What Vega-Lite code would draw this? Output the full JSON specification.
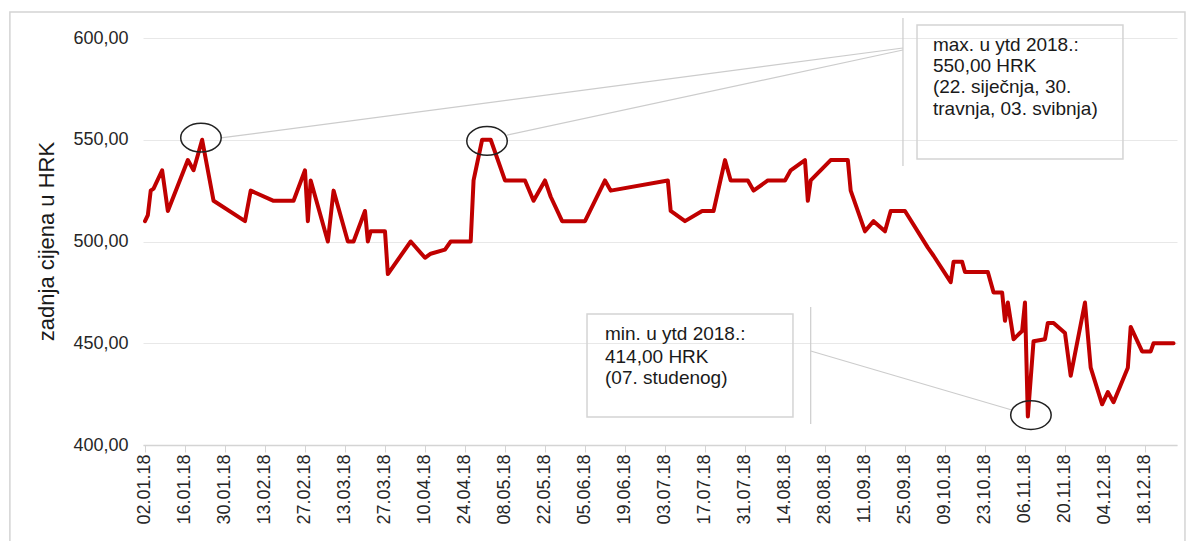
{
  "$schema": "https://vega.github.io/schema/vega-lite/v6.json",
  "width": 1034,
  "height": 407,
  "autosize": {"type": "none"},
  "padding": {"left": 143, "top": 38, "right": 15, "bottom": 96},
  "background": "white",
  "config": {
    "font": "Liberation Sans, Arial, sans-serif",
    "view": {"stroke": null}
  },
  "datasets": {
    "prices": [
      {"date": "2018-01-02", "value": 510}, {"date": "2018-01-03", "value": 513}, {"date": "2018-01-04", "value": 525},
      {"date": "2018-01-05", "value": 526}, {"date": "2018-01-08", "value": 535}, {"date": "2018-01-10", "value": 515},
      {"date": "2018-01-17", "value": 540}, {"date": "2018-01-19", "value": 535}, {"date": "2018-01-22", "value": 550},
      {"date": "2018-01-26", "value": 520}, {"date": "2018-02-06", "value": 510}, {"date": "2018-02-08", "value": 525},
      {"date": "2018-02-16", "value": 520}, {"date": "2018-02-23", "value": 520}, {"date": "2018-02-27", "value": 535},
      {"date": "2018-02-28", "value": 510}, {"date": "2018-03-01", "value": 530}, {"date": "2018-03-07", "value": 500},
      {"date": "2018-03-09", "value": 525}, {"date": "2018-03-14", "value": 500}, {"date": "2018-03-16", "value": 500},
      {"date": "2018-03-20", "value": 515}, {"date": "2018-03-21", "value": 500}, {"date": "2018-03-22", "value": 505},
      {"date": "2018-03-27", "value": 505}, {"date": "2018-03-28", "value": 484}, {"date": "2018-04-05", "value": 500},
      {"date": "2018-04-10", "value": 492}, {"date": "2018-04-12", "value": 494}, {"date": "2018-04-17", "value": 496},
      {"date": "2018-04-19", "value": 500}, {"date": "2018-04-25", "value": 500}, {"date": "2018-04-26", "value": 500},
      {"date": "2018-04-27", "value": 530}, {"date": "2018-04-30", "value": 550}, {"date": "2018-05-02", "value": 550},
      {"date": "2018-05-03", "value": 550}, {"date": "2018-05-08", "value": 530}, {"date": "2018-05-15", "value": 530},
      {"date": "2018-05-18", "value": 520}, {"date": "2018-05-22", "value": 530}, {"date": "2018-05-24", "value": 522},
      {"date": "2018-05-28", "value": 510}, {"date": "2018-06-05", "value": 510}, {"date": "2018-06-12", "value": 530},
      {"date": "2018-06-14", "value": 525}, {"date": "2018-07-04", "value": 530}, {"date": "2018-07-05", "value": 515},
      {"date": "2018-07-10", "value": 510}, {"date": "2018-07-16", "value": 515}, {"date": "2018-07-20", "value": 515},
      {"date": "2018-07-24", "value": 540}, {"date": "2018-07-26", "value": 530}, {"date": "2018-08-01", "value": 530},
      {"date": "2018-08-03", "value": 525}, {"date": "2018-08-08", "value": 530}, {"date": "2018-08-14", "value": 530},
      {"date": "2018-08-16", "value": 535}, {"date": "2018-08-21", "value": 540}, {"date": "2018-08-22", "value": 520},
      {"date": "2018-08-23", "value": 530}, {"date": "2018-08-30", "value": 540}, {"date": "2018-09-05", "value": 540},
      {"date": "2018-09-06", "value": 525}, {"date": "2018-09-11", "value": 505}, {"date": "2018-09-14", "value": 510},
      {"date": "2018-09-18", "value": 505}, {"date": "2018-09-20", "value": 515}, {"date": "2018-09-25", "value": 515},
      {"date": "2018-10-03", "value": 497}, {"date": "2018-10-05", "value": 493}, {"date": "2018-10-11", "value": 480},
      {"date": "2018-10-12", "value": 490}, {"date": "2018-10-15", "value": 490}, {"date": "2018-10-16", "value": 485},
      {"date": "2018-10-24", "value": 485}, {"date": "2018-10-26", "value": 475}, {"date": "2018-10-29", "value": 475},
      {"date": "2018-10-30", "value": 461}, {"date": "2018-10-31", "value": 470}, {"date": "2018-11-02", "value": 452},
      {"date": "2018-11-05", "value": 456}, {"date": "2018-11-06", "value": 470}, {"date": "2018-11-07", "value": 414},
      {"date": "2018-11-09", "value": 451}, {"date": "2018-11-13", "value": 452}, {"date": "2018-11-14", "value": 460},
      {"date": "2018-11-16", "value": 460}, {"date": "2018-11-20", "value": 455}, {"date": "2018-11-22", "value": 434},
      {"date": "2018-11-27", "value": 470}, {"date": "2018-11-29", "value": 438}, {"date": "2018-12-03", "value": 420},
      {"date": "2018-12-05", "value": 426}, {"date": "2018-12-07", "value": 421}, {"date": "2018-12-12", "value": 438},
      {"date": "2018-12-13", "value": 458}, {"date": "2018-12-17", "value": 446}, {"date": "2018-12-20", "value": 446},
      {"date": "2018-12-21", "value": 450}, {"date": "2018-12-28", "value": 450}
    ],
    "boxes": [
      {"date": "2017-11-15T17:00Z", "date2": "2019-01-01T00:00Z", "value": 612.8, "value2": 340},
      {"date": "2018-09-29T05:00Z", "date2": "2018-12-10T07:00Z", "value": 606.4, "value2": 540.5},
      {"date": "2018-06-05T17:00Z", "date2": "2018-08-16T19:00Z", "value": 464.4, "value2": 413.8}
    ],
    "callouts": [
      {"date": "2018-01-28T14:00Z", "value": 550.9, "date2": "2018-09-24T07:00Z", "value2": 595.1},
      {"date": "2018-05-08T17:00Z", "value": 552.3, "date2": "2018-09-24T07:00Z", "value2": 594.1},
      {"date": "2018-08-23T00:00Z", "value": 446.2, "date2": "2018-11-01T10:00Z", "value2": 417.2},
      {"date": "2018-09-24T07:00Z", "value": 609.8, "date2": "2018-09-24T07:00Z", "value2": 537.1},
      {"date": "2018-08-23T00:00Z", "value": 467.8, "date2": "2018-08-23T00:00Z", "value2": 410.3}
    ],
    "circles": [
      {"date": "2018-01-21T14:00Z", "value": 551},
      {"date": "2018-05-01T17:00Z", "value": 549.4},
      {"date": "2018-11-08T02:00Z", "value": 414.7}
    ],
    "notes": [
      {"date": "2018-10-04T19:00Z", "value": 596.7, "label": "max. u ytd 2018.:"},
      {"date": "2018-10-04T19:00Z", "value": 586.1, "label": "550,00 HRK"},
      {"date": "2018-10-04T19:00Z", "value": 575.9, "label": "(22. siječnja, 30."},
      {"date": "2018-10-04T19:00Z", "value": 565.2, "label": "travnja, 03. svibnja)"},
      {"date": "2018-06-12T00:00Z", "value": 454.3, "label": "min. u ytd 2018.:"},
      {"date": "2018-06-12T00:00Z", "value": 443.4, "label": "414,00 HRK"},
      {"date": "2018-06-12T00:00Z", "value": 432.8, "label": "(07. studenog)"}
    ]
  },
  "layer": [
    {
      "data": {"name": "prices"},
      "mark": {"type": "line", "color": "#c00000", "strokeWidth": 4, "strokeJoin": "round", "strokeCap": "round"},
      "encoding": {
        "x": {
          "field": "date", "type": "temporal", "title": null,
          "scale": {
            "type": "utc",
            "domain": [
              {"year": 2018, "month": 1, "date": 1, "hours": 7, "minutes": 12, "utc": true},
              {"year": 2018, "month": 12, "date": 29, "hours": 5, "utc": true}
            ]
          },
          "axis": {
            "title": null,
            "values": [
              {"year": 2018, "month": 1, "date": 2, "utc": true},
              {"year": 2018, "month": 1, "date": 16, "utc": true},
              {"year": 2018, "month": 1, "date": 30, "utc": true},
              {"year": 2018, "month": 2, "date": 13, "utc": true},
              {"year": 2018, "month": 2, "date": 27, "utc": true},
              {"year": 2018, "month": 3, "date": 13, "utc": true},
              {"year": 2018, "month": 3, "date": 27, "utc": true},
              {"year": 2018, "month": 4, "date": 10, "utc": true},
              {"year": 2018, "month": 4, "date": 24, "utc": true},
              {"year": 2018, "month": 5, "date": 8, "utc": true},
              {"year": 2018, "month": 5, "date": 22, "utc": true},
              {"year": 2018, "month": 6, "date": 5, "utc": true},
              {"year": 2018, "month": 6, "date": 19, "utc": true},
              {"year": 2018, "month": 7, "date": 3, "utc": true},
              {"year": 2018, "month": 7, "date": 17, "utc": true},
              {"year": 2018, "month": 7, "date": 31, "utc": true},
              {"year": 2018, "month": 8, "date": 14, "utc": true},
              {"year": 2018, "month": 8, "date": 28, "utc": true},
              {"year": 2018, "month": 9, "date": 11, "utc": true},
              {"year": 2018, "month": 9, "date": 25, "utc": true},
              {"year": 2018, "month": 10, "date": 9, "utc": true},
              {"year": 2018, "month": 10, "date": 23, "utc": true},
              {"year": 2018, "month": 11, "date": 6, "utc": true},
              {"year": 2018, "month": 11, "date": 20, "utc": true},
              {"year": 2018, "month": 12, "date": 4, "utc": true},
              {"year": 2018, "month": 12, "date": 18, "utc": true}
            ],
            "format": "%d.%m.%y",
            "labelAngle": -90,
            "labelFontSize": 18,
            "labelColor": "#262626",
            "labelPadding": 2,
            "labelOverlap": false,
            "labelFlush": false,
            "grid": false,
            "domainColor": "#d4d4d4",
            "domainWidth": 1.5,
            "tickColor": "#d4d4d4",
            "tickSize": 7,
            "tickWidth": 1
          }
        },
        "y": {
          "field": "value", "type": "quantitative", "title": "zadnja cijena u HRK",
          "scale": {"domain": [400, 600], "nice": false, "zero": false},
          "axis": {
            "title": "zadnja cijena u HRK",
            "titleFontSize": 22,
            "titleFontWeight": "normal",
            "titleColor": "#1a1a1a",
            "titleX": -97,
            "titleY": 203,
            "titleAngle": -90,
            "titleAlign": "center",
            "titleBaseline": "middle",
            "values": [400, 450, 500, 550, 600],
            "labelExpr": "replace(format(datum.value, '.2f'), '.', ',')",
            "labelFontSize": 18,
            "labelColor": "#262626",
            "labelPadding": 15,
            "domain": false,
            "ticks": false,
            "tickSize": 0,
            "grid": true,
            "gridColor": "#e8e8e8",
            "gridWidth": 1
          }
        }
      }
    },
    {
      "data": {"name": "boxes"},
      "mark": {"type": "rect", "fill": "white", "fillOpacity": 0, "stroke": "#d4d4d4", "strokeWidth": 1.5},
      "encoding": {
        "x": {"field": "date", "type": "temporal", "title": null},
        "x2": {"field": "date2"},
        "y": {"field": "value", "type": "quantitative", "title": "zadnja cijena u HRK"},
        "y2": {"field": "value2"}
      }
    },
    {
      "data": {"name": "callouts"},
      "mark": {"type": "rule", "color": "#cccccc", "strokeWidth": 1.2},
      "encoding": {
        "x": {"field": "date", "type": "temporal", "title": null},
        "x2": {"field": "date2"},
        "y": {"field": "value", "type": "quantitative", "title": "zadnja cijena u HRK"},
        "y2": {"field": "value2"}
      }
    },
    {
      "data": {"name": "circles"},
      "mark": {
        "type": "point",
        "shape": "M-1,0A1,0.71,0,1,0,1,0A1,0.71,0,1,0,-1,0Z",
        "filled": false,
        "stroke": "#222222",
        "strokeWidth": 1.5,
        "size": 1640,
        "opacity": 1
      },
      "encoding": {
        "x": {"field": "date", "type": "temporal", "title": null},
        "y": {"field": "value", "type": "quantitative", "title": "zadnja cijena u HRK"}
      }
    },
    {
      "data": {"name": "notes"},
      "mark": {"type": "text", "align": "left", "baseline": "middle", "fontSize": 19, "color": "#1a1a1a"},
      "encoding": {
        "x": {"field": "date", "type": "temporal", "title": null},
        "y": {"field": "value", "type": "quantitative", "title": "zadnja cijena u HRK"},
        "text": {"field": "label"}
      }
    }
  ]
}
